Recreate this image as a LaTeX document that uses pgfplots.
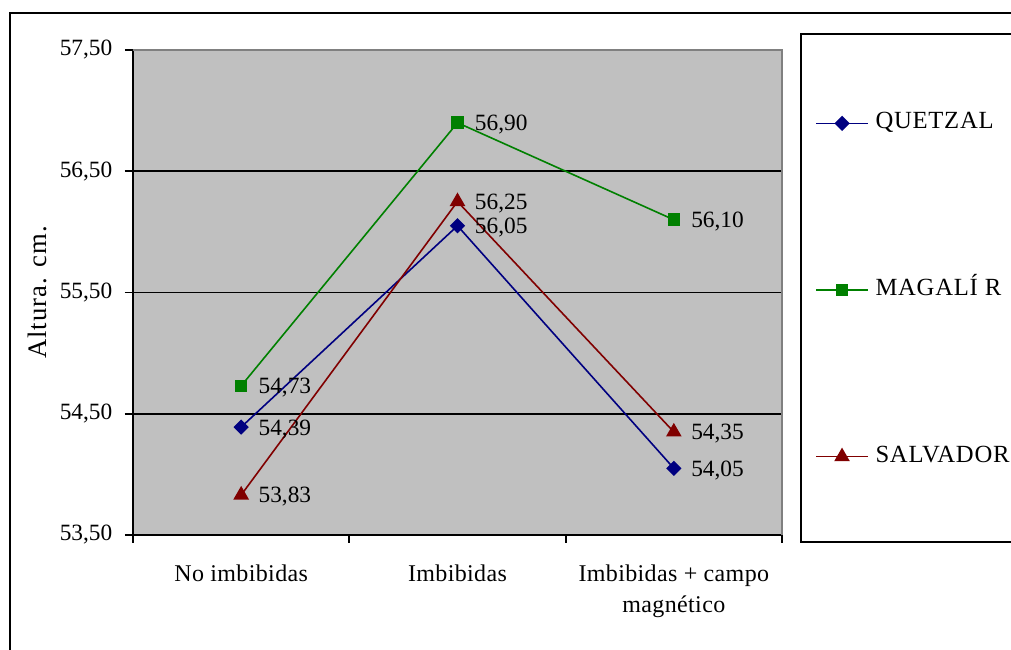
\documentclass[border=0pt]{standalone}
\usepackage{fontspec}
\setmainfont{Liberation Serif}
\usepackage{pgfplots}
\pgfplotsset{compat=1.18}
\definecolor{bgray}{RGB}{192,192,192}
\definecolor{qnavy}{RGB}{0,0,128}
\definecolor{mgreen}{RGB}{0,128,0}
\definecolor{sred}{RGB}{128,0,0}
\newcommand{\cf}{\fontsize{17.5}{23}\selectfont}
\newcommand{\xf}{\fontsize{18}{23.25}\selectfont\addfontfeatures{LetterSpace=1.5}}
\newcommand{\lf}{\fontsize{18.5}{23}\selectfont\addfontfeatures{LetterSpace=3}}
\newcommand{\yf}{\fontsize{20}{24}\selectfont\addfontfeatures{LetterSpace=4}}
\begin{document}
\begin{tikzpicture}[font=\cf]
\useasboundingbox (0,0) rectangle (758.25pt,487.5pt);
\draw[line width=1.3pt] (7.5pt,-5pt) -- (7.5pt,477.75pt) -- (770pt,477.75pt);
\draw[line width=1.2pt] (770pt,81pt) -- (600.75pt,81pt) -- (600.75pt,462pt) -- (770pt,462pt);
\begin{axis}[
  at={(99.75pt,86.25pt)}, anchor=south west,
  scale only axis, width=486.75pt, height=363.75pt,
  xmin=-0.5, xmax=2.5, ymin=53.5, ymax=57.5,
  axis x line*=bottom, axis y line*=left,
  axis line style={line width=1.3pt, -},
  axis background/.style={fill=bgray},
  xtick={0,1,2},
  xticklabels={No imbibidas, Imbibidas, {Imbibidas + campo\\magnético}},
  major x tick style={draw=none},
  minor xtick={-0.5,0.5,1.5,2.5},
  minor x tick style={line width=1.3pt, black},
  minor tick length=6pt,
  ytick={53.5,54.5,55.5,56.5,57.5},
  major y tick style={line width=1.3pt, black},
  major tick length=6pt,
  tick align=outside,
  extra y ticks={54.5,55.5,56.5},
  extra y tick labels={},
  extra y tick style={grid=major, major grid style={black, line width=1.3pt}},
  /pgf/number format/assume math mode=true,
  yticklabel style={font=\cf, xshift=-6pt, /pgf/number format/.cd, fixed, fixed zerofill, precision=2, use comma},
  xticklabel style={font=\xf, align=center, yshift=-13pt},
  ylabel={Altura. cm.},
  ylabel style={font=\yf, at={(axis description cs:-0.148,0.5)}, anchor=center},
  nodes near coords={\pgfmathprintnumber[fixed,fixed zerofill,precision=2,use comma]{\pgfplotspointmeta}},
  every node near coord/.append style={font=\cf, anchor=west, inner sep=0pt, xshift=12.5pt, yshift=-1.5pt, black},
  legend style={at={(axis description cs:1.0508,0.5051)}, anchor=west, draw=none, fill=none, inner sep=0pt, row sep=109pt, column sep=5pt, font=\lf, nodes={inner sep=0pt, text height=12pt, text depth=4pt}},
  legend cell align=left,
  legend image code/.code={\draw[mark repeat=2,mark phase=2] plot coordinates {(0pt,0pt) (19.5pt,0pt) (39pt,0pt)};},
  clip=false,
]
\addplot[qnavy, line width=1.2pt, mark=square*, mark size=3.45pt, mark options={rotate=45, solid, fill=qnavy}] coordinates {(0,54.39) (1,56.05) (2,54.05)};
\addlegendentry{QUETZAL}
\addplot[mgreen, line width=1.2pt, mark=square*, mark size=4.1pt, mark options={solid, fill=mgreen}] coordinates {(0,54.73) (1,56.90) (2,56.10)};
\addlegendentry{MAGALÍ R}
\addplot[sred, line width=1.2pt, mark=triangle*, mark size=5.6pt, mark options={solid, fill=sred}] coordinates {(0,53.83) (1,56.25) (2,54.35)};
\addlegendentry{SALVADOR}
\draw[gray, line width=0.9pt] (rel axis cs:0,1) -- (rel axis cs:1,1) -- (rel axis cs:1,0);
\end{axis}
\end{tikzpicture}
\end{document}
